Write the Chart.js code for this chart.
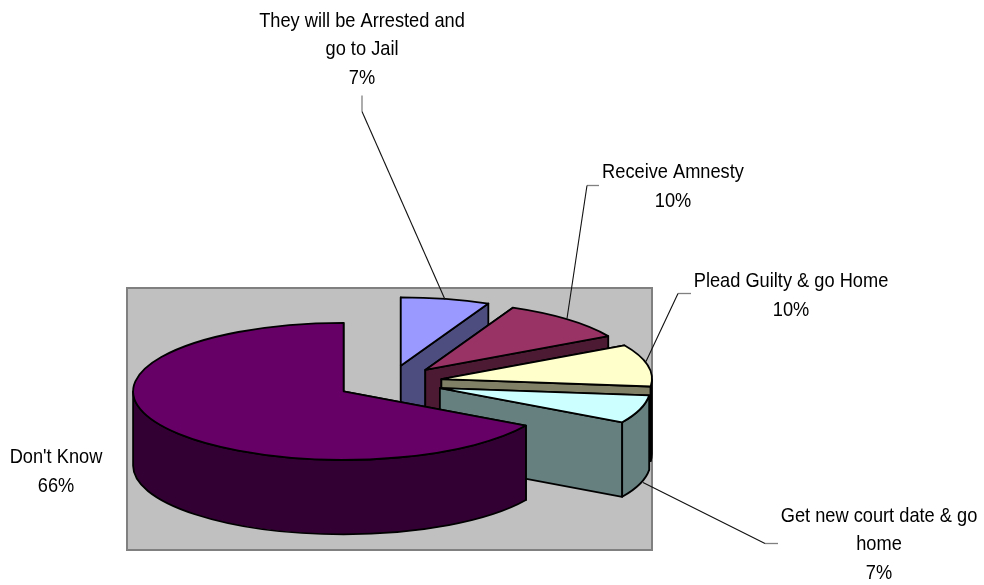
<!DOCTYPE html>
<html>
<head>
<meta charset="utf-8">
<style>html,body{margin:0;padding:0;background:#fff}canvas{display:block}</style>
<script src="https://cdn.jsdelivr.net/npm/chart.js@4"></script>
</head>
<body>
<canvas id="c" width="984" height="585"></canvas>
<script>
const categories = ["They will be Arrested and go to Jail","Receive Amnesty","Plead Guilty & go Home","Get new court date & go home","Don't Know"];
const values = [6.8,9.9,9.9,6.6,66.4];
const topColors = ["#9999ff","#993366","#ffffcc","#ccffff","#660066"];
const sideColors = ["#4d4d80","#4d1a33","#808066","#668080","#330033"];
const labelLines = [["They will be Arrested and","go to Jail"],["Receive Amnesty"],["Plead Guilty & go Home"],["Get new court date & go","home"],["Don't Know"]];
const labelX = [362,673,791,879,56];
const labelBase = [26.5,178,287,521.5,463];
const leaders = [[[362,95],[362,111],[445,299]],[[599,185],[587,185],[567,318]],[[691,293],[678,293],[646,361]],[[778,543],[765,543],[643,482]],null];

const RADIUS = 210.5, SQUASH = 68.5/210.5, DEPTH = 74.5, EXPLODE = 53, CY = 382.7, TEXT_SQUEEZE = 0.868;

const pie3d = {
  id:'pie3d',
  beforeDatasetDraw(chart,args){
    const ctx = chart.ctx, meta = args.meta;
    const area = chart.chartArea;
    ctx.save();
    ctx.fillStyle = '#c0c0c0';
    ctx.strokeStyle = '#808080';
    ctx.lineWidth = 2;
    ctx.fillRect(area.left,area.top,area.width,area.height);
    ctx.strokeRect(area.left,area.top,area.width,area.height);
    ctx.restore();
    meta.data.forEach((arc,i)=>{
      const a0 = arc.startAngle, a1 = arc.endAngle, mid = (a0+a1)/2;
      const r = arc.outerRadius, ry = r*SQUASH;
      const cx = arc.x + Math.cos(mid)*EXPLODE;
      const cy = CY + Math.sin(mid)*EXPLODE*SQUASH;
      const pt = a => [cx+Math.cos(a)*r, cy+Math.sin(a)*ry];
      ctx.save();
      ctx.lineWidth = 1.8;
      ctx.lineJoin = 'round';
      ctx.strokeStyle = '#000';
      ctx.fillStyle = sideColors[i];
      [a0,a1].forEach(a=>{
        const p = pt(a);
        ctx.beginPath();
        ctx.moveTo(cx,cy); ctx.lineTo(p[0],p[1]);
        ctx.lineTo(p[0],p[1]+DEPTH); ctx.lineTo(cx,cy+DEPTH);
        ctx.closePath(); ctx.fill(); ctx.stroke();
      });
      const from = Math.max(a0,0), to = Math.min(a1,Math.PI);
      if(to>from){
        ctx.beginPath();
        ctx.ellipse(cx,cy,r,ry,0,from,to);
        ctx.ellipse(cx,cy+DEPTH,r,ry,0,to,from,true);
        ctx.closePath(); ctx.fill(); ctx.stroke();
      }
      ctx.restore();
      // top face drawn by the library's arc element under a squashing transform
      ctx.save();
      ctx.translate(cx, cy);
      ctx.scale(1,SQUASH);
      ctx.translate(-arc.x,-arc.y);
      arc.draw(ctx, area);
      ctx.restore();
      ctx.save();
      ctx.lineWidth = 1.8;
      ctx.lineJoin = 'round';
      ctx.strokeStyle = '#000';
      ctx.beginPath();
      ctx.moveTo(cx,cy);
      ctx.ellipse(cx,cy,r,ry,0,a0,a1);
      ctx.closePath();
      ctx.stroke();
      ctx.restore();
    });
    return false;
  },
  afterDraw(chart){
    const ctx = chart.ctx;
    ctx.save();
    leaders.forEach(l=>{
      if(!l) return;
      ctx.strokeStyle = '#808080'; ctx.lineWidth = 1.3;
      ctx.beginPath(); ctx.moveTo(l[0][0],l[0][1]+.5); ctx.lineTo(l[1][0],l[1][1]+.5); ctx.stroke();
      ctx.strokeStyle = '#111'; ctx.lineWidth = 1.1;
      ctx.beginPath(); ctx.moveTo(l[1][0],l[1][1]+.5); ctx.lineTo(l[2][0],l[2][1]+.5); ctx.stroke();
    });
    ctx.fillStyle = '#000';
    ctx.font = '21px "Liberation Sans",Arial,sans-serif';
    ctx.textAlign = 'center';
    ctx.textBaseline = 'alphabetic';
    labelLines.forEach((lines,i)=>{
      lines.concat(Math.round(values[i])+'%').forEach((t,j)=>{
        ctx.save();
        ctx.translate(labelX[i],labelBase[i]+j*28.8);
        ctx.scale(TEXT_SQUEEZE,1);
        ctx.fillText(t,0,0);
        ctx.restore();
      });
    });
    ctx.restore();
  }
};

new Chart(document.getElementById('c'),{
  type:'pie',
  data:{labels:categories,datasets:[{
    data:values,
    backgroundColor:topColors,
    borderWidth:0,
    radius:RADIUS
  }]},
  options:{
    responsive:false,
    animation:false,
    layout:{padding:{left:127,top:288,right:332,bottom:35}},
    plugins:{legend:{display:false},tooltip:{enabled:false}},
    rotation:0
  },
  plugins:[pie3d]
});
</script>
</body>
</html>
